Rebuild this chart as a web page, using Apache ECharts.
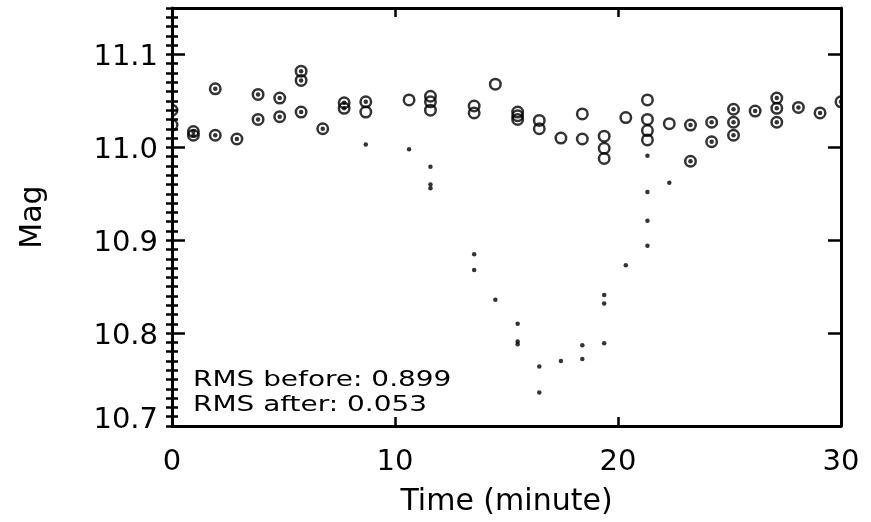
<!DOCTYPE html>
<html>
<head>
<meta charset="utf-8">
<script src="https://cdn.jsdelivr.net/npm/echarts@6/dist/echarts.min.js"></script>
<style>
html,body{margin:0;padding:0;background:#fff;}
#chart{width:871px;height:522px;}
</style>
</head>
<body>
<div id="chart"></div>
<script>
// Observation times (minutes); each entry pairs a "before" and an "after" magnitude
const times = [
  0, 0, 0.96, 0.96, 1.94, 1.94, 2.91, 3.86, 3.86, 4.83, 4.83,
  5.79, 5.79, 5.79, 6.76, 7.72, 7.72, 8.69, 8.69, 10.63,
  11.59, 11.59, 11.59, 13.55, 13.55, 14.50, 15.50, 15.50, 15.50,
  16.47, 16.47, 17.44, 18.40, 18.40, 19.38, 19.38, 19.38, 20.35,
  21.32, 21.32, 21.32, 21.32, 22.30, 23.25, 23.25, 24.20, 24.20,
  25.18, 25.18, 25.18, 26.15, 27.12, 27.12, 27.12, 28.09, 29.06, 30.0
];
// Magnitudes before correction (small dots)
const magBefore = [
  11.040, 11.024, 11.017, 11.013, 11.063, 11.013, 11.009, 11.057, 11.030, 11.053, 11.033,
  11.082, 11.072, 11.038, 11.020, 11.048, 11.042, 11.049, 11.003, 10.998,
  10.979, 10.960, 10.956, 10.885, 10.868, 10.836, 10.810, 10.791, 10.788,
  10.764, 10.736, 10.770, 10.787, 10.772, 10.841, 10.832, 10.789, 10.873,
  10.991, 10.952, 10.921, 10.894, 10.962, 11.024, 10.985, 11.027, 11.006,
  11.041, 11.027, 11.013, 11.039, 11.053, 11.042, 11.027, 11.043, 11.037, 11.049
];
// Magnitudes after correction (open circles)
const magAfter = [
  11.040, 11.024, 11.017, 11.013, 11.063, 11.013, 11.009, 11.057, 11.030, 11.053, 11.033,
  11.082, 11.072, 11.038, 11.020, 11.048, 11.042, 11.049, 11.038, 11.051,
  11.055, 11.049, 11.040, 11.0445, 11.037, 11.068, 11.038, 11.034, 11.030,
  11.029, 11.020, 11.010, 11.036, 11.009, 11.012, 10.999, 10.988, 11.032,
  11.051, 11.030, 11.018, 11.008, 11.0255, 11.024, 10.985, 11.027, 11.006,
  11.041, 11.027, 11.013, 11.039, 11.053, 11.042, 11.027, 11.043, 11.037, 11.049
];
const xTicks = [0, 10, 20, 30];
const yTicks = [10.7, 10.8, 10.9, 11.0, 11.1];
const rmsLines = ['RMS before: 0.899', 'RMS after: 0.053'];

const FONT = 'DejaVu Sans';
const chart = echarts.init(document.getElementById('chart'), null, {renderer: 'canvas'});

const lineStyle = {color: '#000', width: 3};
function isMajor(v) {
  return yTicks.some(t => Math.abs(t - v) < 1e-6);
}

const option = {
  backgroundColor: '#fff',
  animation: false,
  grid: {left: 172, right: 30, top: 8, bottom: 94, containLabel: false},
  xAxis: [
    {
      type: 'value', min: xTicks[0], max: xTicks[xTicks.length - 1], interval: 10, position: 'bottom', zlevel: 1, z: 10,
      axisLine: {show: true, onZero: false, lineStyle: lineStyle},
      axisTick: {show: true, inside: true, length: 9, lineStyle: {color: '#000', width: 2.5}},
      axisLabel: {fontSize: 29, fontFamily: FONT, color: '#000', margin: 22},
      splitLine: {show: false},
      name: 'Time (minute)', nameLocation: 'middle', nameGap: 61,
      nameTextStyle: {fontSize: 30, fontFamily: FONT, color: '#000'}
    },
    {
      type: 'value', min: xTicks[0], max: xTicks[xTicks.length - 1], interval: 10, position: 'top', zlevel: 1, z: 10,
      axisLine: {show: true, onZero: false, lineStyle: lineStyle},
      axisTick: {show: true, inside: true, length: 9, lineStyle: {color: '#000', width: 2.5}},
      axisLabel: {show: false},
      splitLine: {show: false}
    }
  ],
  yAxis: [
    {
      type: 'value', min: 10.7, max: 11.15, interval: 0.1, position: 'left', zlevel: 1, z: 10,
      axisLine: {show: true, onZero: false, lineStyle: lineStyle},
      axisTick: {show: true, inside: true, length: 13, lineStyle: {color: '#000', width: 2.5}},
      axisLabel: {
        margin: 14, color: '#000',
        formatter: function (v) {
          if (!isMajor(v)) return '';
          if (Math.abs(v - 10.7) < 1e-6) return '{lo|' + v.toFixed(1) + '}';
          return '{n|' + v.toFixed(1) + '}';
        },
        rich: {
          n: {fontSize: 29, fontFamily: FONT, color: '#000', padding: [6, 0, 0, 0]},
          lo: {fontSize: 29, fontFamily: FONT, color: '#000', padding: [0, 0, 12, 0]}
        }
      },
      splitLine: {show: false},
      name: 'Mag', nameLocation: 'middle', nameGap: 124,
      nameTextStyle: {fontSize: 30, fontFamily: FONT, color: '#000'}
    },
    {
      type: 'value', min: 10.7, max: 11.15, interval: 0.01, position: 'left', zlevel: 1, z: 10,
      axisLine: {show: false},
      axisTick: {show: true, inside: true, length: 6, lineStyle: {color: '#000', width: 2.5}},
      axisLabel: {show: false},
      splitLine: {show: false}
    },
    {
      type: 'value', min: 10.7, max: 11.15, interval: 0.1, position: 'right', zlevel: 1, z: 10,
      axisLine: {show: true, onZero: false, lineStyle: lineStyle},
      axisTick: {show: true, inside: true, length: 13, lineStyle: {color: '#000', width: 2.5}},
      axisLabel: {show: false},
      splitLine: {show: false}
    },
    {
      type: 'value', min: 10.7, max: 11.15, interval: 0.01, position: 'right', zlevel: 1, z: 10,
      axisLine: {show: false},
      axisTick: {show: true, inside: true, length: 6, lineStyle: {color: '#000', width: 2.5}},
      axisLabel: {show: false},
      splitLine: {show: false}
    }
  ],
  graphic: [
    {type: 'rect', zlevel: 1, z: 1, shape: {x: 158, y: 0, width: 13, height: 440}, style: {fill: '#fff'}},
    {type: 'rect', zlevel: 1, z: 1, shape: {x: 842, y: 0, width: 29, height: 440}, style: {fill: '#fff'}},
    {
      type: 'text', zlevel: 1, z: 6, x: 193, y: 368, scaleX: 1.27,
      style: {text: rmsLines.join('\n'), font: '22px "DejaVu Sans"', fill: '#000', lineHeight: 25, verticalAlign: 'top'}
    }
  ],
  series: [
    {
      name: 'After', type: 'scatter', xAxisIndex: 0, yAxisIndex: 0, z: 2,
      symbol: 'circle', symbolSize: 10.5,
      itemStyle: {color: 'rgba(0,0,0,0)', borderColor: '#000', borderWidth: 2.5},
      data: times.map((t, i) => [t, magAfter[i]])
    },
    {
      name: 'Before', type: 'scatter', xAxisIndex: 0, yAxisIndex: 0, z: 3,
      symbol: 'circle', symbolSize: 4.5,
      itemStyle: {color: '#000'},
      data: times.map((t, i) => [t, magBefore[i]])
    }
  ]
};
chart.setOption(option);
</script>
</body>
</html>
